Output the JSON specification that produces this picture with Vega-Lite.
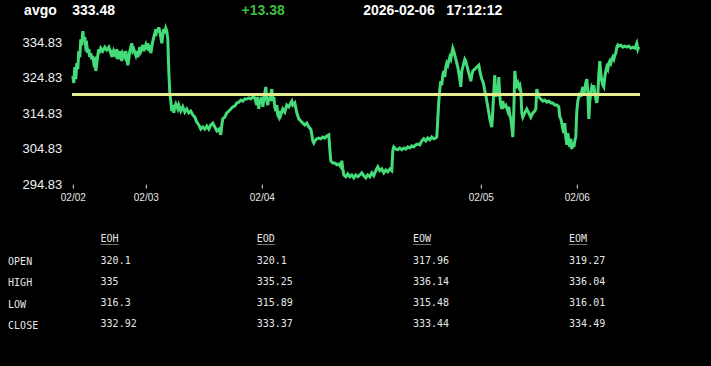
{
  "$schema": "https://vega.github.io/schema/vega-lite/v6.json",
  "autosize": {"type": "pad"},
  "padding": {"left": 6.8, "top": 0, "right": 72, "bottom": 0},
  "background": "black",
  "bounds": "flush",
  "spacing": 4.1,
  "config": {"view": {"stroke": null}, "axis": {"labelOverlap": false, "labelSeparation": 0}},
  "datasets": {
    "header": [
      {"part": "quote", "text": "avgo\u00a0\u00a0\u00a0\u00a0333.48"},
      {"part": "change", "text": "+13.38"},
      {"part": "timestamp", "text": "2026-02-06\u00a0\u00a0\u00a017:12:12"}
    ],
    "series": [
      {"t":0,"v":325.25},{"t":1,"v":323.3},{"t":2,"v":327.8},{"t":3,"v":324.4},{"t":4,"v":328.9},{"t":5,"v":327.2},{"t":6,"v":332.3},{"t":7,"v":330.6},{"t":8,"v":335.6},{"t":9,"v":333.9},
      {"t":10,"v":337.9},{"t":11,"v":335.1},{"t":12,"v":336.2},{"t":13,"v":333.4},{"t":14,"v":334.0},{"t":15,"v":331.7},{"t":16,"v":332.8},{"t":17,"v":330.6},{"t":18,"v":331.7},{"t":19,"v":330.0},
      {"t":20,"v":330.9},{"t":21,"v":328.9},{"t":22,"v":329.5},{"t":23,"v":326.7},{"t":24,"v":328.9},{"t":25,"v":331.1},{"t":26,"v":332.8},{"t":27,"v":331.7},{"t":28,"v":333.1},{"t":30,"v":332.3},
      {"t":32,"v":333.4},{"t":34,"v":332.6},{"t":36,"v":333.4},{"t":38,"v":331.7},{"t":39,"v":332.6},{"t":40,"v":330.6},{"t":41,"v":332.3},{"t":43,"v":331.1},{"t":44,"v":332.8},{"t":46,"v":330.0},
      {"t":47,"v":332.3},{"t":49,"v":329.5},{"t":50,"v":331.7},{"t":52,"v":330.6},{"t":53,"v":332.3},{"t":55,"v":328.3},{"t":56,"v":330.0},{"t":57,"v":332.3},{"t":58,"v":333.4},{"t":59,"v":334.5},
      {"t":60,"v":332.3},{"t":61,"v":332.8},{"t":63,"v":331.1},{"t":64,"v":332.3},{"t":65,"v":330.6},{"t":67,"v":333.4},{"t":68,"v":332.3},{"t":70,"v":334.0},{"t":71,"v":332.3},{"t":73,"v":334.0},
      {"t":74,"v":332.8},{"t":75,"v":334.5},{"t":76,"v":332.3},{"t":77,"v":334.0},{"t":78,"v":331.7},{"t":79,"v":333.4},{"t":80,"v":335.1},{"t":81,"v":336.2},{"t":82,"v":337.3},{"t":83,"v":336.5},
      {"t":84,"v":338.5},{"t":85,"v":337.6},{"t":86,"v":339.0},{"t":87,"v":337.9},{"t":88,"v":336.2},{"t":89,"v":334.5},{"t":90,"v":336.8},{"t":91,"v":338.5},{"t":92,"v":337.3},{"t":93,"v":338.7},
      {"t":94,"v":337.9},{"t":95,"v":335.6},{"t":96,"v":326.7},{"t":97,"v":320.5},{"t":98,"v":318.2},{"t":99,"v":315.4},{"t":100,"v":317.1},{"t":101,"v":314.9},{"t":102,"v":316.6},{"t":103,"v":317.4},
      {"t":105,"v":316.0},{"t":106,"v":317.1},{"t":108,"v":315.4},{"t":110,"v":316.6},{"t":112,"v":315.1},{"t":114,"v":316.0},{"t":116,"v":314.9},{"t":118,"v":315.4},{"t":120,"v":314.3},{"t":122,"v":313.7},
      {"t":124,"v":312.3},{"t":126,"v":311.5},{"t":128,"v":310.3},{"t":130,"v":310.9},{"t":132,"v":310.3},{"t":134,"v":311.2},{"t":136,"v":310.3},{"t":138,"v":311.5},{"t":140,"v":312.0},{"t":142,"v":310.9},
      {"t":144,"v":309.8},{"t":146,"v":310.3},{"t":148,"v":308.7},{"t":149,"v":311.5},{"t":150,"v":313.2},{"t":152,"v":313.7},{"t":154,"v":314.9},{"t":156,"v":315.4},{"t":158,"v":316.0},{"t":160,"v":316.6},
      {"t":162,"v":316.8},{"t":164,"v":317.7},{"t":166,"v":317.9},{"t":168,"v":318.5},{"t":170,"v":318.2},{"t":172,"v":318.8},{"t":174,"v":318.8},{"t":176,"v":319.1},{"t":178,"v":318.8},{"t":180,"v":319.4},
      {"t":182,"v":319.1},{"t":184,"v":317.1},{"t":185,"v":319.4},{"t":186,"v":316.0},{"t":187,"v":318.8},{"t":188,"v":317.7},{"t":189,"v":319.4},{"t":190,"v":316.6},{"t":191,"v":318.8},{"t":192,"v":320.5},
      {"t":193,"v":322.2},{"t":194,"v":318.2},{"t":195,"v":317.1},{"t":196,"v":319.4},{"t":197,"v":318.2},{"t":198,"v":320.0},{"t":199,"v":321.6},{"t":200,"v":318.2},{"t":201,"v":319.4},{"t":202,"v":316.6},
      {"t":203,"v":315.4},{"t":204,"v":317.1},{"t":205,"v":314.3},{"t":206,"v":313.7},{"t":207,"v":315.4},{"t":208,"v":314.3},{"t":210,"v":316.0},{"t":212,"v":315.1},{"t":214,"v":317.1},{"t":216,"v":316.6},
      {"t":218,"v":317.7},{"t":219,"v":318.2},{"t":220,"v":317.1},{"t":222,"v":317.7},{"t":224,"v":314.9},{"t":226,"v":313.2},{"t":228,"v":312.6},{"t":230,"v":312.0},{"t":232,"v":311.5},{"t":234,"v":312.0},
      {"t":236,"v":310.9},{"t":238,"v":310.3},{"t":239,"v":308.7},{"t":240,"v":307.0},{"t":241,"v":306.4},{"t":242,"v":307.0},{"t":244,"v":307.6},{"t":246,"v":307.8},{"t":248,"v":307.6},{"t":250,"v":308.1},
      {"t":252,"v":307.8},{"t":254,"v":308.4},{"t":256,"v":308.7},{"t":257,"v":304.7},{"t":258,"v":301.4},{"t":260,"v":300.8},{"t":262,"v":300.8},{"t":264,"v":300.3},{"t":266,"v":300.5},{"t":268,"v":299.7},
      {"t":269,"v":301.4},{"t":270,"v":299.1},{"t":271,"v":297.4},{"t":273,"v":296.9},{"t":275,"v":297.7},{"t":277,"v":296.9},{"t":279,"v":297.4},{"t":281,"v":296.6},{"t":283,"v":297.4},{"t":285,"v":296.9},
      {"t":287,"v":297.4},{"t":289,"v":298.0},{"t":291,"v":297.2},{"t":293,"v":296.6},{"t":295,"v":297.4},{"t":297,"v":296.9},{"t":299,"v":298.0},{"t":301,"v":297.2},{"t":303,"v":298.6},{"t":305,"v":299.7},
      {"t":307,"v":298.6},{"t":309,"v":299.1},{"t":311,"v":298.0},{"t":313,"v":298.8},{"t":315,"v":298.3},{"t":317,"v":299.1},{"t":319,"v":298.6},{"t":320,"v":304.2},{"t":321,"v":305.3},{"t":323,"v":304.7},
      {"t":325,"v":304.5},{"t":327,"v":305.0},{"t":329,"v":304.5},{"t":331,"v":305.0},{"t":333,"v":304.7},{"t":335,"v":305.3},{"t":337,"v":305.0},{"t":339,"v":305.6},{"t":341,"v":305.3},{"t":343,"v":305.9},
      {"t":345,"v":306.1},{"t":347,"v":305.9},{"t":349,"v":307.0},{"t":351,"v":307.6},{"t":353,"v":307.0},{"t":355,"v":307.8},{"t":357,"v":307.3},{"t":359,"v":308.1},{"t":361,"v":307.6},{"t":363,"v":307.8},
      {"t":364,"v":308.1},{"t":365,"v":313.2},{"t":366,"v":318.2},{"t":367,"v":321.6},{"t":368,"v":323.8},{"t":369,"v":322.7},{"t":370,"v":325.5},{"t":371,"v":326.7},{"t":372,"v":325.0},{"t":373,"v":327.8},
      {"t":374,"v":328.9},{"t":375,"v":328.3},{"t":376,"v":329.5},{"t":377,"v":330.6},{"t":378,"v":330.0},{"t":379,"v":331.7},{"t":380,"v":333.1},{"t":381,"v":332.3},{"t":382,"v":331.1},{"t":383,"v":330.0},
      {"t":384,"v":328.9},{"t":385,"v":327.8},{"t":386,"v":326.1},{"t":387,"v":324.4},{"t":388,"v":322.2},{"t":389,"v":326.7},{"t":390,"v":327.8},{"t":391,"v":328.9},{"t":392,"v":330.0},{"t":393,"v":329.5},
      {"t":394,"v":328.3},{"t":395,"v":327.2},{"t":396,"v":326.1},{"t":397,"v":325.0},{"t":398,"v":323.8},{"t":399,"v":325.5},{"t":400,"v":326.7},{"t":402,"v":327.2},{"t":404,"v":327.8},{"t":406,"v":328.3},
      {"t":407,"v":326.7},{"t":408,"v":325.5},{"t":409,"v":324.4},{"t":410,"v":323.8},{"t":411,"v":322.7},{"t":412,"v":321.0},{"t":413,"v":319.9},{"t":414,"v":318.2},{"t":415,"v":316.6},{"t":416,"v":314.9},
      {"t":417,"v":313.2},{"t":418,"v":312.0},{"t":419,"v":310.9},{"t":420,"v":315.4},{"t":421,"v":321.0},{"t":422,"v":325.5},{"t":423,"v":319.4},{"t":424,"v":321.6},{"t":425,"v":319.9},{"t":426,"v":325.0},
      {"t":427,"v":319.4},{"t":428,"v":317.1},{"t":429,"v":316.0},{"t":430,"v":318.2},{"t":431,"v":316.6},{"t":433,"v":317.1},{"t":435,"v":315.4},{"t":436,"v":316.6},{"t":437,"v":314.3},{"t":438,"v":313.2},
      {"t":439,"v":310.9},{"t":440,"v":308.1},{"t":441,"v":315.4},{"t":442,"v":326.7},{"t":443,"v":323.8},{"t":444,"v":322.7},{"t":445,"v":323.3},{"t":446,"v":322.2},{"t":447,"v":322.7},{"t":448,"v":321.0},
      {"t":449,"v":314.9},{"t":450,"v":313.7},{"t":452,"v":314.9},{"t":454,"v":316.0},{"t":456,"v":314.9},{"t":458,"v":313.7},{"t":460,"v":314.9},{"t":462,"v":315.4},{"t":463,"v":316.0},{"t":464,"v":321.6},
      {"t":465,"v":320.5},{"t":466,"v":319.4},{"t":468,"v":318.8},{"t":470,"v":318.2},{"t":472,"v":318.5},{"t":474,"v":317.9},{"t":476,"v":318.2},{"t":478,"v":317.7},{"t":480,"v":317.7},{"t":482,"v":317.1},
      {"t":484,"v":317.1},{"t":486,"v":316.6},{"t":487,"v":313.7},{"t":488,"v":313.2},{"t":489,"v":312.0},{"t":490,"v":310.3},{"t":491,"v":309.2},{"t":492,"v":312.0},{"t":493,"v":308.1},{"t":494,"v":305.9},
      {"t":495,"v":309.2},{"t":496,"v":307.0},{"t":497,"v":305.3},{"t":498,"v":307.6},{"t":499,"v":304.7},{"t":500,"v":306.4},{"t":501,"v":305.3},{"t":502,"v":307.0},{"t":503,"v":308.1},{"t":504,"v":315.4},
      {"t":505,"v":318.2},{"t":506,"v":319.4},{"t":507,"v":320.5},{"t":508,"v":319.4},{"t":509,"v":321.0},{"t":510,"v":322.2},{"t":511,"v":319.9},{"t":512,"v":321.6},{"t":513,"v":323.3},{"t":514,"v":324.4},
      {"t":515,"v":321.0},{"t":516,"v":313.2},{"t":517,"v":318.2},{"t":518,"v":320.5},{"t":519,"v":322.2},{"t":520,"v":321.6},{"t":521,"v":322.7},{"t":522,"v":320.5},{"t":523,"v":318.8},{"t":524,"v":317.7},
      {"t":525,"v":319.9},{"t":526,"v":325.5},{"t":527,"v":329.5},{"t":528,"v":326.1},{"t":529,"v":323.8},{"t":530,"v":322.7},{"t":531,"v":322.2},{"t":532,"v":325.0},{"t":533,"v":326.7},{"t":534,"v":327.8},
      {"t":535,"v":327.2},{"t":536,"v":328.9},{"t":537,"v":329.5},{"t":538,"v":328.9},{"t":539,"v":330.0},{"t":540,"v":330.6},{"t":541,"v":330.0},{"t":542,"v":331.1},{"t":543,"v":331.7},{"t":544,"v":333.4},
      {"t":545,"v":334.0},{"t":546,"v":333.7},{"t":548,"v":334.0},{"t":550,"v":333.4},{"t":552,"v":333.7},{"t":554,"v":333.4},{"t":556,"v":333.7},{"t":558,"v":333.1},{"t":560,"v":333.4},{"t":562,"v":333.1},
      {"t":564,"v":334.5},{"t":565,"v":332.8},{"t":566,"v":333.48}
    ],
    "table": [
      {"row": "hdr", "col": "EOH", "value": "EOH"},
      {"row": "hdr", "col": "EOD", "value": "EOD"},
      {"row": "hdr", "col": "EOW", "value": "EOW"},
      {"row": "hdr", "col": "EOM", "value": "EOM"},
      {"row": "OPEN", "col": "EOH", "value": "320.1"},
      {"row": "OPEN", "col": "EOD", "value": "320.1"},
      {"row": "OPEN", "col": "EOW", "value": "317.96"},
      {"row": "OPEN", "col": "EOM", "value": "319.27"},
      {"row": "HIGH", "col": "EOH", "value": "335"},
      {"row": "HIGH", "col": "EOD", "value": "335.25"},
      {"row": "HIGH", "col": "EOW", "value": "336.14"},
      {"row": "HIGH", "col": "EOM", "value": "336.04"},
      {"row": "LOW", "col": "EOH", "value": "316.3"},
      {"row": "LOW", "col": "EOD", "value": "315.89"},
      {"row": "LOW", "col": "EOW", "value": "315.48"},
      {"row": "LOW", "col": "EOM", "value": "316.01"},
      {"row": "CLOSE", "col": "EOH", "value": "332.92"},
      {"row": "CLOSE", "col": "EOD", "value": "333.37"},
      {"row": "CLOSE", "col": "EOW", "value": "333.44"},
      {"row": "CLOSE", "col": "EOM", "value": "334.49"}
    ]
  },
  "vconcat": [
    {
      "width": 567,
      "height": 21.2,
      "data": {"name": "header"},
      "encoding": {
        "x": {"field": "part", "type": "nominal", "scale": {"domain": ["quote", "change", "timestamp"], "range": [-48.7, 429.5], "padding": 0}, "axis": null},
        "text": {"field": "text", "type": "nominal"}
      },
      "layer": [
        {"transform": [{"filter": "datum.part == 'quote'"}], "mark": {"type": "text", "align": "left", "baseline": "middle", "font": "Liberation Sans", "fontWeight": "bold", "fontSize": 14, "color": "#ffffff"}},
        {"transform": [{"filter": "datum.part == 'change'"}], "mark": {"type": "text", "align": "center", "baseline": "middle", "font": "Liberation Sans", "fontWeight": "bold", "fontSize": 14, "color": "#3dbf40"}},
        {"transform": [{"filter": "datum.part == 'timestamp'"}], "mark": {"type": "text", "align": "right", "baseline": "middle", "font": "Liberation Sans", "fontWeight": "bold", "fontSize": 14, "color": "#ffffff"}}
      ]
    },
    {
      "width": 567,
      "height": 158,
      "data": {"name": "series"},
      "layer": [
        {
          "mark": {"type": "line", "color": "#44dc78", "strokeWidth": 3},
          "encoding": {
            "x": {"field": "t", "type": "quantitative", "scale": {"domain": [0, 567], "nice": false, "zero": false},
              "axis": {"title": null, "values": [0, 73, 189, 408, 504], "tickCount": 20,
                "labelExpr": "datum.value == 0 ? '02/02' : datum.value == 73 ? '02/03' : datum.value == 189 ? '02/04' : datum.value == 408 ? '02/05' : '02/06'",
                "domain": false, "grid": false, "ticks": true, "tickSize": 4, "tickColor": "#e0e0e0", "tickWidth": 1,
                "labelColor": "#e8e8e8", "labelFont": "Liberation Sans", "labelFontSize": 10, "labelPadding": 4,
                "labelFlush": false, "labelOverlap": false}},
            "y": {"field": "v", "type": "quantitative", "scale": {"domain": [294.83, 339.33], "nice": false, "zero": false},
              "axis": {"title": null, "values": [294.83, 304.83, 314.83, 324.83, 334.83], "tickCount": 20, "format": ".2f",
                "domain": false, "grid": false, "ticks": false, "tickSize": 0, "labelPadding": 11,
                "labelColor": "#f0f0f0", "labelFont": "Liberation Sans", "labelFontSize": 13,
                "labelFlush": false, "labelOverlap": false, "labelSeparation": 0}}
          }
        },
        {
          "mark": {"type": "rule", "color": "#e4ee8c", "strokeWidth": 3},
          "encoding": {"y": {"datum": 320.1, "type": "quantitative"}}
        }
      ]
    },
    {
      "width": 567,
      "height": 178.6,
      "data": {"name": "table"},
      "encoding": {
        "x": {"field": "col", "type": "nominal", "scale": {"domain": ["EOH", "EOD", "EOW", "EOM"], "range": [27.8, 496.3], "padding": 0}, "axis": null},
        "y": {"field": "row", "type": "nominal", "scale": {"domain": ["hdr", "OPEN", "HIGH", "LOW", "CLOSE"], "range": [51.3, 136.3], "padding": 0},
          "axis": {"title": null, "domain": false, "ticks": false, "tickSize": 0, "grid": false, "labelAlign": "left", "labelPadding": 65.2, "labelOffset": 1,
            "labelFont": "DejaVu Sans Mono", "labelFontSize": 10, "labelColor": "#e6e6e6", "labelExpr": "datum.value == 'hdr' ? '' : datum.value"}}
      },
      "layer": [
        {"mark": {"type": "text", "align": "left", "baseline": "middle", "font": "DejaVu Sans Mono", "fontSize": 10, "color": "#e6e6e6"},
          "encoding": {"text": {"field": "value", "type": "nominal"}}},
        {"transform": [{"filter": "datum.row == 'hdr'"}],
          "mark": {"type": "text", "align": "left", "baseline": "middle", "font": "DejaVu Sans Mono", "fontSize": 10, "color": "#e6e6e6", "text": "___"}}
      ]
    }
  ]
}
